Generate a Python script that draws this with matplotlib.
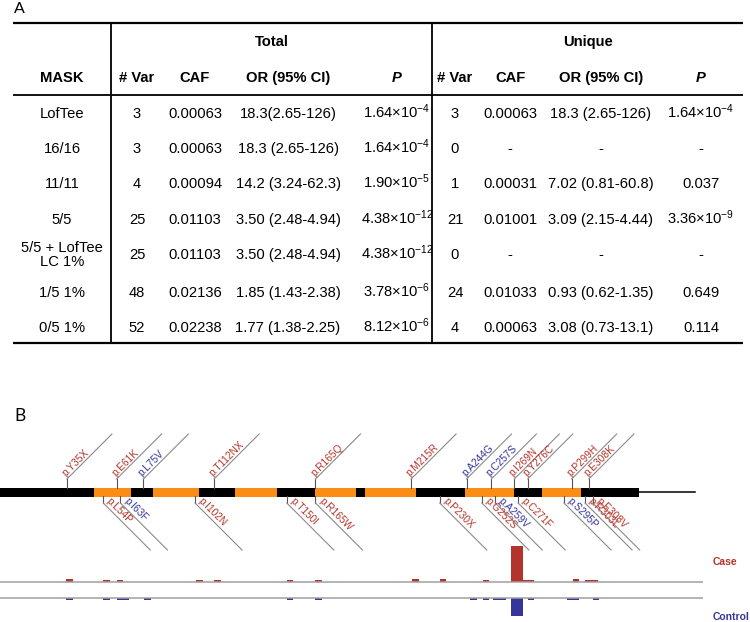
import numpy as np
import matplotlib.pyplot as plt

plt.rcParams['font.family'] = ['Liberation Sans', 'DejaVu Sans']
plt.rcParams['mathtext.fontset'] = 'custom'
plt.rcParams['mathtext.rm'] = 'Liberation Sans'
plt.rcParams['mathtext.it'] = 'Liberation Sans:italic'
plt.rcParams['mathtext.bf'] = 'Liberation Sans:bold'

# ---------------- panel A : association table ----------------
masks = ['LofTee', '16/16', '11/11', '5/5', '5/5 + LofTee\nLC 1%', '1/5 1%', '0/5 1%']
tot_var = ['3', '3', '4', '25', '25', '48', '52']
tot_caf = ['0.00063', '0.00063', '0.00094', '0.01103', '0.01103', '0.02136', '0.02238']
tot_or = ['18.3(2.65-126)', '18.3 (2.65-126)', '14.2 (3.24-62.3)', '3.50 (2.48-4.94)',
          '3.50 (2.48-4.94)', '1.85 (1.43-2.38)', '1.77 (1.38-2.25)']
tot_p = ['1.64×10$^{-4}$', '1.64×10$^{-4}$', '1.90×10$^{-5}$', '4.38×10$^{-12}$',
         '4.38×10$^{-12}$', '3.78×10$^{-6}$', '8.12×10$^{-6}$']
uni_var = ['3', '0', '1', '21', '0', '24', '4']
uni_caf = ['0.00063', '-', '0.00031', '0.01001', '-', '0.01033', '0.00063']
uni_or = ['18.3 (2.65-126)', '-', '7.02 (0.81-60.8)', '3.09 (2.15-4.44)', '-',
          '0.93 (0.62-1.35)', '3.08 (0.73-13.1)']
uni_p = ['1.64×10$^{-4}$', '-', '0.037', '3.36×10$^{-9}$', '-', '0.649', '0.114']
col_heads = ['MASK', '# Var', 'CAF', 'OR (95% CI)', 'P', '# Var', 'CAF', 'OR (95% CI)', 'P']

# ---------------- panel B : gene model (amino acid positions) ----------------
exon_edges = [0, 49, 68.5, 80, 104, 123, 145, 165, 186, 191, 217.5, 243, 269, 283.5, 304, 334]
gene_end = 363.5
top_names = ['p.Y35X', 'p.E61K', 'p.L75V', 'p.T112NX', 'p.R165Q', 'p.M215R', 'p.A244G',
             'p.C257S', 'p.I269N', 'p.Y276C', 'p.P299H', 'p.E308K']
top_pos = [35, 61, 75, 112, 165, 215, 244, 257, 269, 276, 299, 308]
top_kind = ['case', 'case', 'control', 'case', 'case', 'case', 'control', 'control',
            'case', 'case', 'case', 'case']
bot_names = ['p.L54P', 'p.I63F', 'p.I102N', 'p.T150I', 'p.R165W', 'p.P230X', 'p.G252S',
             'p.A259V', 'p.C271F', 'p.S295P', 'p.R303L', 'p.E308V']
bot_pos = [54, 63, 102, 150, 165, 230, 252, 259, 271, 295, 306, 310]
bot_kind = ['case', 'control', 'case', 'case', 'case', 'case', 'case', 'control', 'case',
            'control', 'case', 'case']
case_pos = [34.5, 54, 61, 102.5, 112, 150, 165, 215.5, 230, 252.5, 267, 270, 273.5, 276,
            299.5, 306, 309.5]
case_n = [6, 4, 4, 4, 4, 5, 4, 6, 7, 4, 72, 72, 5, 5, 6, 5, 4]
ctrl_pos = [34.5, 54, 61, 64, 75.5, 150, 165, 246, 252.5, 258, 261, 267, 270, 276, 296.5,
            299.5, 310]
ctrl_n = [4, 4, 4, 4, 4, 4, 4, 4, 4, 4, 4, 36, 36, 4, 4, 4, 4]

RED = '#b3342a'
BLUE = '#35359a'
ORANGE = '#fb8c14'
kind_color = {'case': RED, 'control': BLUE}

W, H = 750, 622
fig = plt.figure(figsize=(7.5, 6.22), dpi=100, facecolor='white')

# table drawn in pixel coordinates
ax = fig.add_axes([0, 0, 1, 1], label='table')
ax.set_xlim(0, W)
ax.set_ylim(H, 0)
ax.axis('off')

ax.text(14, 9, 'A', fontsize=11.5, family='Lato', va='center', ha='left')
ax.text(14, 416, 'B', fontsize=12.5, family='Lato', va='center', ha='left')

ax.hlines(23, 13, 743, color='black', lw=1.6)
ax.hlines(95, 13, 743, color='black', lw=1.3)
ax.hlines(343, 13, 743, color='black', lw=1.6)
ax.vlines([111, 432], 23, 343, color='black', lw=1.3)

fs = 10.6
col_x = [62, 137, 195, 288, 397, 455, 510, 601, 701]
ax.text(272, 42, 'Total', fontsize=fs, weight='bold', ha='center', va='center')
ax.text(588, 42, 'Unique', fontsize=fs, weight='bold', ha='center', va='center')
for cx, head in zip(col_x, col_heads):
    style = 'italic' if head == 'P' else 'normal'
    ax.text(cx, 82, head, fontsize=fs, weight='bold', style=style, ha='center', va='baseline')

row_y = [113, 148, 183, 219, 254, 292, 327]
columns = [tot_var, tot_caf, tot_or, tot_p, uni_var, uni_caf, uni_or, uni_p]
for i, y in enumerate(row_y):
    if '\n' in masks[i]:
        ax.text(col_x[0], y + 1, masks[i], fontsize=fs, ha='center', va='center',
                multialignment='center', linespacing=1.05)
    else:
        ax.text(col_x[0], y + 5, masks[i], fontsize=fs, ha='center', va='baseline')
    for cx, col in zip(col_x[1:], columns):
        ax.text(cx, y + 5, col[i], fontsize=fs, ha='center', va='baseline')

ax.text(713, 562, 'Case', fontsize=7.5, weight='bold', color=RED, ha='left', va='center')
ax.text(713, 617, 'Control', fontsize=7.5, weight='bold', color=BLUE, ha='left', va='center')

# gene model: x in amino acids, y in pixels
ppa = 1.912
xmax = W / ppa
axg = fig.add_axes([0, 0, 1, 1], label='gene')
axg.set_xlim(0, xmax)
axg.set_ylim(H, 0)
axg.axis('off')

for k in range(len(exon_edges) - 1):
    c = 'black' if k % 2 == 0 else ORANGE
    axg.barh(492, exon_edges[k + 1] - exon_edges[k], left=exon_edges[k], height=9,
             color=c, lw=0)
axg.plot([exon_edges[-1], gene_end], [492, 492], color='black', lw=1.1)

for name, p, kind in zip(top_names, top_pos, top_kind):
    axg.plot([p, p], [488, 479], color='#555555', lw=0.8)
    axg.plot([p, p + 45 / ppa], [479, 434], color='#8a8a8a', lw=0.8)
    axg.text(p + 0.5 / ppa, 478, name, fontsize=7.3, color=kind_color[kind], rotation=45,
             rotation_mode='anchor', ha='left', va='bottom')

for name, p, kind in zip(bot_names, bot_pos, bot_kind):
    axg.plot([p, p], [496, 503], color='#555555', lw=0.8)
    axg.plot([p, p + 47 / ppa], [503, 550], color='#8a8a8a', lw=0.8)
    axg.text(p + 1.5 / ppa, 503, name, fontsize=7.3, color=kind_color[kind], rotation=-45,
             rotation_mode='anchor', ha='left', va='bottom')

# case / control tracks
unit = 0.5  # pixels per count
axc = fig.add_axes([0, (H - 582) / H, 1, 42 / H], label='case')
axc.set_xlim(0, xmax)
axc.set_ylim(0, 42 / unit)
axc.axis('off')
axc.hlines(0, 0, 703 / ppa, color='#a0a0a0', lw=1.1, clip_on=False)
axc.bar(case_pos, case_n, width=3.5, align='edge', color=RED, lw=0)

axk = fig.add_axes([0, 0, 1, (H - 598) / H], label='control')
axk.set_xlim(0, xmax)
axk.set_ylim((H - 598) / unit, 0)
axk.axis('off')
axk.hlines(0, 0, 703 / ppa, color='#a0a0a0', lw=1.1, clip_on=False)
axk.bar(ctrl_pos, ctrl_n, width=3.5, align='edge', color=BLUE, lw=0)

fig.savefig('out.png', dpi=100, facecolor='white')
